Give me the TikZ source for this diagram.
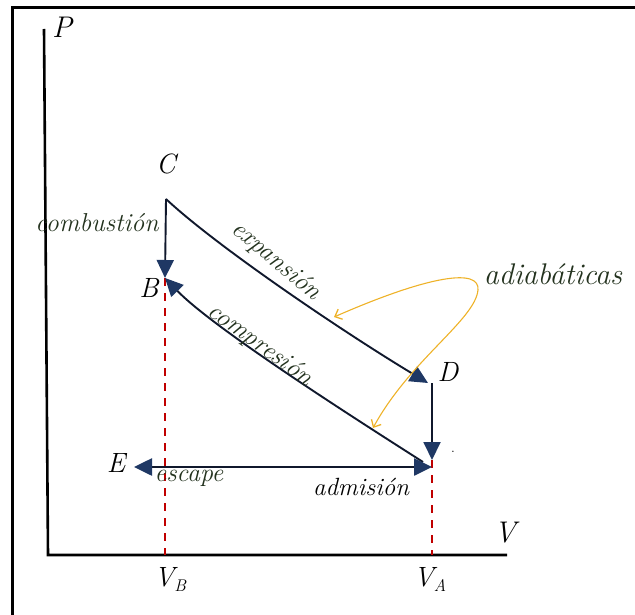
\documentclass[tikz,border=0pt]{standalone}
\usepackage{tikz}
\usetikzlibrary{arrows.meta}
\definecolor{navy}{RGB}{31,56,100}
\definecolor{curve}{RGB}{16,24,44}
\definecolor{labgreen}{RGB}{35,50,30}
\definecolor{guide}{RGB}{192,0,0}
\definecolor{adiab}{RGB}{238,178,40}
\tikzset{bigtip/.tip={Triangle[length=18bp,width=17bp,color=navy]}}

\begin{document}
\begin{tikzpicture}[x=1bp, y=-1bp,
    frame/.style={line width=3bp, black},
    axis/.style={line width=2.6bp, black},
    process/.style={line width=1.9bp, draw=curve, -bigtip},
    guideline/.style={line width=2.2bp, guide, dash pattern=on 8bp off 7bp},
    adiaarrow/.style={line width=1.1bp, adiab, -{Straight Barb[length=6bp,width=11bp,line width=1.3bp]}},
    ptlab/.style={font=\fontsize{28}{32}\selectfont\itshape, inner sep=0pt},
    proclab/.style={font=\fontsize{26}{30}\selectfont\itshape, text=labgreen, inner sep=0pt}]
    \useasboundingbox (0,0) rectangle (635,615);
    % Frame
    \draw[frame] (12.5,615) -- (12.5,7.5) -- (635,7.5);

    % Axes
    \coordinate (Ptop) at (44,29);
    \coordinate (O) at (48,555);
    \coordinate (Vend) at (507,555);
    \draw[axis] (Ptop) -- (O) -- (Vend);
    \node[ptlab, font=\fontsize{30}{34}\selectfont\itshape] (P) at (62,27) {P};
    \node[ptlab, font=\fontsize{30}{34}\selectfont\itshape] (V) at (505,533) {V};

    % Cycle points
    \coordinate (C) at (166,199);
    \coordinate (B) at (165,278);
    \coordinate (D) at (432,383);
    \coordinate (A) at (432,460);
    \coordinate (Aleft) at (423,462);
    \coordinate (E) at (134,467);
    \node[ptlab] (Clab) at (166,164) {C};
    \node[ptlab] (Blab) at (149,288) {B};
    \node[ptlab] (Dlab) at (448,372) {D};
    \node[ptlab] (Elab) at (116,463) {E};
    \node[font=\fontsize{14}{16}\selectfont] (dot) at (453,452) {.};

    % Volumes
    \draw[guideline] (B) -- (B |- O);
    \draw[guideline] (A) -- (A |- O);
    \node[ptlab] (VB) at (170,579) {V\raisebox{-5bp}{\fontsize{17}{19}\selectfont B}};
    \node[ptlab] (VA) at (430,579) {V\raisebox{-5bp}{\fontsize{17}{19}\selectfont A}};

    % Processes
    \draw[process] (C) -- (B);
    \draw[process] (C) .. controls (215,245) and (340,330) .. ([xshift=-4bp]D);
    \draw[process] (D) -- (A);
    \draw[process] (Aleft) .. controls (370,428) and (215,330) .. (B);
    \draw[process, line width=2.6bp, bigtip-bigtip] (E) -- (E -| A);

    \node[proclab] (comb) at (97,223) {combustión};
    \node[proclab, rotate=-40] (expa) at (276,261) {expansión};
    \node[proclab, rotate=-36] (comp) at (260,345) {compresión};
    \node[proclab] (esc) at (189,478) {escape};
    \node[proclab, text=black, font=\fontsize{25}{29}\selectfont\itshape] (adm) at (361,487) {admisión};

    % Adiabatic note
    \node[proclab, font=\fontsize{30}{34}\selectfont\itshape] (adia) at (553,274) {adiabáticas};
    \coordinate (ad) at (478,290);
    \draw[adiaarrow] (ad) .. controls (480,268) and (430,275) .. (334,317);
    \draw[adiaarrow] (ad) .. controls (475,320) and (410,360) .. (373,428);
\end{tikzpicture}
\end{document}
